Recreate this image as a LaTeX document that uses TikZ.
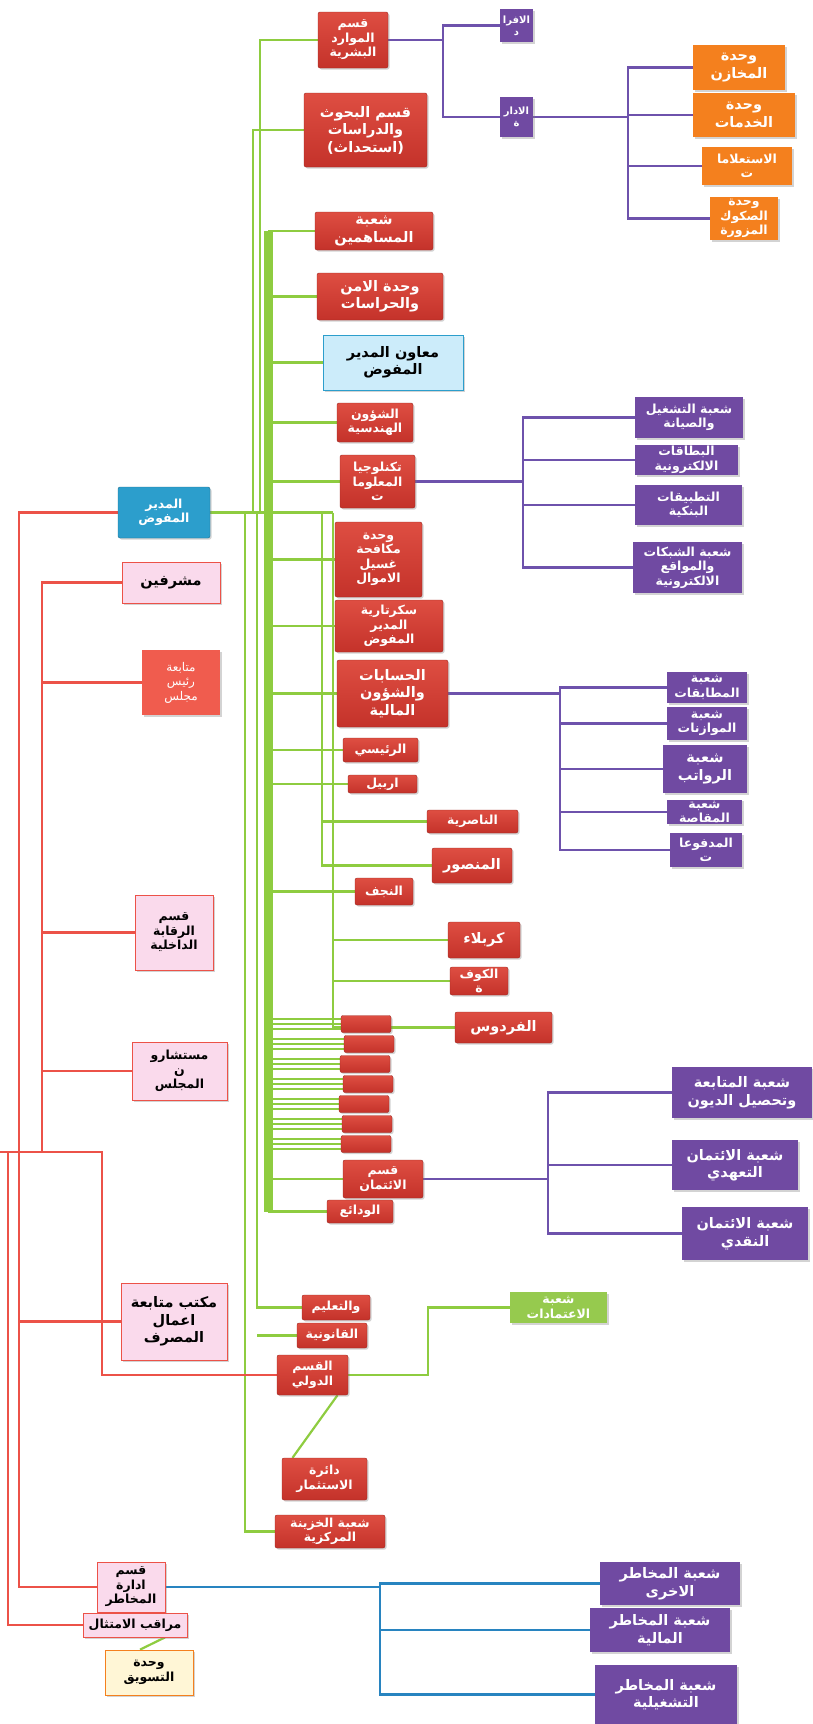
\documentclass[tikz,border=0pt]{standalone}
\usepackage{fontspec}
\newfontfamily\arabicfont[Script=Arabic]{DejaVu Sans}
\TeXXeTstate=1
\usetikzlibrary{shadows}
\pgfdeclarelayer{background}
\pgfsetlayers{background,main}

\newcommand{\arl}[1]{\beginR #1\endR}

\definecolor{boxred}{RGB}{196,50,42}
\definecolor{boxredtop}{RGB}{222,78,66}
\definecolor{boxpurple}{RGB}{112,74,162}
\definecolor{boxorange}{RGB}{244,128,30}
\definecolor{boxpink}{RGB}{250,218,236}
\definecolor{boxsalmon}{RGB}{240,92,78}
\definecolor{boxsky}{RGB}{204,236,250}
\definecolor{boxdir}{RGB}{44,158,204}
\definecolor{boxcream}{RGB}{255,246,214}
\definecolor{boxlime}{RGB}{150,202,78}
\definecolor{linegreen}{RGB}{142,204,64}
\definecolor{linered}{RGB}{236,82,72}
\definecolor{linepurple}{RGB}{110,82,172}
\definecolor{lineblue}{RGB}{40,132,192}

\tikzset{
  unit/.style={rounded corners=2pt, inner sep=1pt, align=center,
    font=\arabicfont\bfseries\fontsize{12.5}{14.5}\selectfont,
    drop shadow={opacity=0.35, shadow xshift=1.5pt, shadow yshift=-1.5pt}},
  wh/.style 2 args={minimum width=#1, minimum height=#2},
  big/.style={font=\arabicfont\bfseries\fontsize{14.5}{17.5}\selectfont},
  redbox/.style={unit, top color=boxredtop, bottom color=boxred, draw=boxred!80!black, text=white},
  purplebox/.style={unit, rounded corners=0pt, fill=boxpurple, text=white},
  orangebox/.style={unit, rounded corners=0pt, fill=boxorange, text=white},
  pinkbox/.style={unit, rounded corners=0pt, fill=boxpink, draw=linered, thick, text=black},
  gline/.style={draw=linegreen, line width=2.2pt},
  rline/.style={draw=linered, line width=2.2pt},
  pline/.style={draw=linepurple, line width=2.6pt},
  bline/.style={draw=lineblue, line width=2.4pt},
}

\begin{document}
\begin{tikzpicture}[x=1pt, y=-1pt]
\useasboundingbox (0,0) rectangle (812,1724);

% bus positions
\coordinate (bar) at (268,0);
\coordinate (gH) at (260,0);
\coordinate (gR) at (253,0);
\coordinate (gT) at (245,0);
\coordinate (gL) at (257,0);
\coordinate (gM) at (322,0);
\coordinate (gF) at (333,0);
\coordinate (gI) at (428,0);
\coordinate (rA) at (19,0);
\coordinate (rB) at (42,0);
\coordinate (rC) at (8,0);
\coordinate (rD) at (102,0);
\coordinate (stub) at (0,1152);
\coordinate (pH) at (443,0);
\coordinate (pS) at (628,0);
\coordinate (pI) at (523,0);
\coordinate (pA) at (560,0);
\coordinate (pC) at (548,0);
\coordinate (pK) at (380,0);

% left column
\node[unit, fill=boxdir, draw=boxdir!70!black, text=white, wh={92}{51}] (dir) at (164,512.5) {\arl{المدير}\\\arl{المفوض}};
\node[pinkbox, big, wh={98}{41}] (sup) at (171,582.5) {\arl{مشرفين}};
\node[unit, rounded corners=0pt, fill=boxsalmon, text=white, font=\arabicfont\fontsize{12}{14.5}\selectfont, wh={78}{65}] (follow) at (181,682.5) {\arl{متابعة}\\\arl{رئيس}\\\arl{مجلس}};
\node[pinkbox, wh={78}{75}] (audit) at (174,932.5) {\arl{قسم}\\\arl{الرقابة}\\\arl{الداخلية}};
\node[pinkbox, wh={95}{58}] (cons) at (179.5,1071) {\arl{مستشارو}\\\arl{ن}\\\arl{المجلس}};
\node[pinkbox, big, wh={106}{77}] (office) at (174,1321.5) {\arl{مكتب متابعة}\\\arl{اعمال}\\\arl{المصرف}};
\node[pinkbox, wh={68}{50}] (risk) at (131,1587) {\arl{قسم}\\\arl{ادارة}\\\arl{المخاطر}};
\node[pinkbox, wh={104}{24}] (comp) at (135,1625) {\arl{مراقب الامتثال}};
\node[unit, rounded corners=0pt, fill=boxcream, draw=boxorange, thick, text=black, wh={88}{45}] (mkt) at (149,1672.5) {\arl{وحدة}\\\arl{التسويق}};

% middle column
\node[redbox, wh={70}{56}] (hr) at (353,40) {\arl{قسم}\\\arl{الموارد}\\\arl{البشرية}};
\node[redbox, big, wh={123}{74}] (res) at (365.5,130) {\arl{قسم البحوث}\\\arl{والدراسات}\\\arl{(استحداث)}};
\node[redbox, big, wh={118}{38}] (shr) at (374,231) {\arl{شعبة}\\\arl{المساهمين}};
\node[redbox, big, wh={126}{47}] (sec) at (380,296.5) {\arl{وحدة الامن}\\\arl{والحراسات}};
\node[unit, big, rounded corners=0pt, fill=boxsky, draw=boxdir, thick, text=black, wh={140}{55}] (asst) at (393,362.5) {\arl{معاون المدير}\\\arl{المفوض}};
\node[redbox, wh={76}{39}] (eng) at (375,422.5) {\arl{الشؤون}\\\arl{الهندسية}};
\node[redbox, wh={75}{53}] (it) at (377.5,481.5) {\arl{تكنلوجيا}\\\arl{المعلوما}\\\arl{ت}};
\node[redbox, wh={87}{75}] (aml) at (378.5,559.5) {\arl{وحدة}\\\arl{مكافحة}\\\arl{غسيل}\\\arl{الاموال}};
\node[redbox, wh={108}{52}] (secr) at (389,626) {\arl{سكرتارية}\\\arl{المدير}\\\arl{المفوض}};
\node[redbox, big, wh={111}{67}] (acc) at (392.5,693.5) {\arl{الحسابات}\\\arl{والشؤون}\\\arl{المالية}};
\node[redbox, wh={75}{24}] (rais) at (380.5,750) {\arl{الرئيسي}};
\node[redbox, wh={69}{18}] (erb) at (382.5,784) {\arl{اربيل}};
\node[redbox, wh={91}{23}] (nas) at (472.5,821.5) {\arl{الناصرية}};
\node[redbox, big, wh={80}{35}] (man) at (472,865.5) {\arl{المنصور}};
\node[redbox, wh={58}{27}] (naj) at (384,891.5) {\arl{النجف}};
\node[redbox, big, wh={72}{36}] (ker) at (484,940) {\arl{كربلاء}};
\node[redbox, wh={58}{28}] (kuf) at (479,981) {\arl{الكوف}\\\arl{ة}};
\node[redbox, big, wh={97}{31}] (fird) at (503.5,1027.5) {\arl{الفردوس}};
\foreach \yy/\xx [count=\i] in {1024/366,1044/369,1064/365,1084/368,1104/364,1124/367,1144/366}
  \node[redbox, wh={50}{17}] (sm\i) at (\xx,\yy) {};
\node[redbox, wh={80}{38}] (cred) at (383,1179) {\arl{قسم}\\\arl{الائتمان}};
\node[redbox, wh={66}{23}] (dep) at (360,1211.5) {\arl{الودائع}};
\node[redbox, wh={68}{25}] (trn) at (336,1307.5) {\arl{والتعليم}};
\node[redbox, wh={70}{25}] (leg) at (332,1335.5) {\arl{القانونية}};
\node[redbox, wh={71}{40}] (intl) at (312.5,1375) {\arl{القسم}\\\arl{الدولي}};
\node[redbox, wh={85}{42}] (inv) at (324.5,1479) {\arl{دائرة}\\\arl{الاستثمار}};
\node[redbox, wh={110}{33}] (trs) at (330,1531.5) {\arl{شعبة الخزينة}\\\arl{المركزية}};
\node[unit, rounded corners=0pt, fill=boxlime, text=white, wh={97}{31}] (lc) at (558.5,1307.5) {\arl{شعبة}\\\arl{الاعتمادات}};

% right column
\node[purplebox, font=\arabicfont\bfseries\fontsize{10}{12}\selectfont, wh={33}{33}] (afr) at (516.5,25.5) {\arl{الافرا}\\\arl{د}};
\node[purplebox, font=\arabicfont\bfseries\fontsize{10}{12}\selectfont, wh={33}{40}] (adar) at (516.5,117) {\arl{الادار}\\\arl{ة}};
\node[orangebox, big, wh={92}{45}] (st1) at (739,67.5) {\arl{وحدة}\\\arl{المخازن}};
\node[orangebox, big, wh={102}{44}] (st2) at (744,115) {\arl{وحدة}\\\arl{الخدمات}};
\node[orangebox, wh={90}{38}] (st3) at (747,166) {\arl{الاستعلاما}\\\arl{ت}};
\node[orangebox, wh={68}{43}] (st4) at (744,218.5) {\arl{وحدة}\\\arl{الصكوك}\\\arl{المزورة}};
\node[purplebox, wh={108}{41}] (ops) at (689,417.5) {\arl{شعبة التشغيل}\\\arl{والصيانة}};
\node[purplebox, wh={103}{30}] (cards) at (686.5,460) {\arl{البطاقات}\\\arl{الالكترونية}};
\node[purplebox, wh={107}{40}] (apps) at (688.5,505) {\arl{التطبيقات}\\\arl{البنكية}};
\node[purplebox, wh={109}{51}] (net) at (687.5,567.5) {\arl{شعبة الشبكات}\\\arl{والمواقع}\\\arl{الالكترونية}};
\node[purplebox, wh={80}{31}] (match) at (707,687.5) {\arl{شعبة}\\\arl{المطابقات}};
\node[purplebox, wh={80}{33}] (bud) at (707,723.5) {\arl{شعبة}\\\arl{الموازنات}};
\node[purplebox, big, wh={84}{48}] (sal) at (705,769) {\arl{شعبة}\\\arl{الرواتب}};
\node[purplebox, wh={75}{20}] (clr) at (704.5,812) {\arl{شعبة}\\\arl{المقاصة}};
\node[purplebox, wh={72}{34}] (pay) at (706,850) {\arl{المدفوعا}\\\arl{ت}};
\node[purplebox, big, wh={140}{51}] (debt) at (742,1092.5) {\arl{شعبة المتابعة}\\\arl{وتحصيل الديون}};
\node[purplebox, big, wh={126}{50}] (pledge) at (735,1165) {\arl{شعبة الائتمان}\\\arl{التعهدي}};
\node[purplebox, big, wh={126}{53}] (cash) at (745,1233.5) {\arl{شعبة الائتمان}\\\arl{النقدي}};
\node[purplebox, big, wh={140}{43}] (rk1) at (670,1583.5) {\arl{شعبة المخاطر}\\\arl{الاخرى}};
\node[purplebox, big, wh={140}{44}] (rk2) at (660,1630) {\arl{شعبة المخاطر}\\\arl{المالية}};
\node[purplebox, big, wh={142}{59}] (rk3) at (666,1694.5) {\arl{شعبة المخاطر}\\\arl{التشغيلية}};

\begin{pgfonlayer}{background}
% green links
\draw[gline] (dir.east) -- (dir.east -| gF);
\draw[gline] (hr.west) -| (gH |- dir.east);
\draw[gline] (res.west) -| (gR |- dir.east);
\draw[gline, line width=9pt] (bar |- shr.west) -- (bar |- dep.west);
\foreach \n in {shr,sec,asst,eng,it,aml,secr,acc,rais,erb,naj,cred,dep}
  \draw[gline] (\n.west -| bar) -- (\n.west);
\foreach \i in {1,...,7} {
  \draw[gline] ([yshift=-5pt]sm\i.west -| bar) -- ([yshift=-5pt]sm\i.west);
  \draw[gline] (sm\i.west -| bar) -- (sm\i.west);
  \draw[gline] ([yshift=5pt]sm\i.west -| bar) -- ([yshift=5pt]sm\i.west);
}
\draw[gline] (gM |- dir.east) |- (man.west);
\draw[gline] (nas.west -| gM) -- (nas.west);
\draw[gline] (gF |- dir.east) |- (fird.west);
\draw[gline] (ker.west -| gF) -- (ker.west);
\draw[gline] (kuf.west -| gF) -- (kuf.west);
\draw[gline] (gL |- dir.east) |- (trn.west);
\draw[gline] (leg.west -| gL) -- (leg.west);
\draw[gline] (gT |- dir.east) |- (trs.west);
\draw[gline] (intl.east) -| (gI |- lc.west) -- (lc.west);
\draw[gline] ([xshift=25pt]intl.south) -- ([xshift=-32pt]inv.north);
\draw[gline] ([xshift=30pt]comp.south) -- ([xshift=-9pt]mkt.north);

% red links
\draw[rline] (dir.west) -| (rA |- risk.west) -- (risk.west);
\draw[rline] (sup.west) -| (rB |- stub);
\foreach \n in {follow,audit,cons}
  \draw[rline] (\n.west -| rB) -- (\n.west);
\draw[rline] (stub) -- (stub -| rD) |- (intl.west);
\draw[rline] (stub -| rC) |- (comp.west);
\draw[rline] (office.west -| rA) -- (office.west);

% purple links
\draw[pline] (hr.east) -- (hr.east -| pH);
\draw[pline] (afr.west) -| (pH |- adar.west) -- (adar.west);
\draw[pline] (adar.east) -- (adar.east -| pS);
\draw[pline] (st1.west) -| (pS |- st4.west) -- (st4.west);
\foreach \n in {st2,st3}
  \draw[pline] (\n.west -| pS) -- (\n.west);
\draw[pline] (it.east) -- (it.east -| pI);
\draw[pline] (ops.west) -| (pI |- net.west) -- (net.west);
\foreach \n in {cards,apps}
  \draw[pline] (\n.west -| pI) -- (\n.west);
\draw[pline] (acc.east) -- (acc.east -| pA);
\draw[pline] (match.west) -| (pA |- pay.west) -- (pay.west);
\foreach \n in {bud,sal,clr}
  \draw[pline] (\n.west -| pA) -- (\n.west);
\draw[pline] (cred.east) -- (cred.east -| pC);
\draw[pline] (debt.west) -| (pC |- cash.west) -- (cash.west);
\draw[pline] (pledge.west -| pC) -- (pledge.west);

% blue links
\draw[bline] (risk.east) -- (risk.east -| pK);
\draw[bline] (rk1.west) -| (pK |- rk3.west) -- (rk3.west);
\draw[bline] (rk2.west -| pK) -- (rk2.west);
\end{pgfonlayer}
\end{tikzpicture}
\end{document}
